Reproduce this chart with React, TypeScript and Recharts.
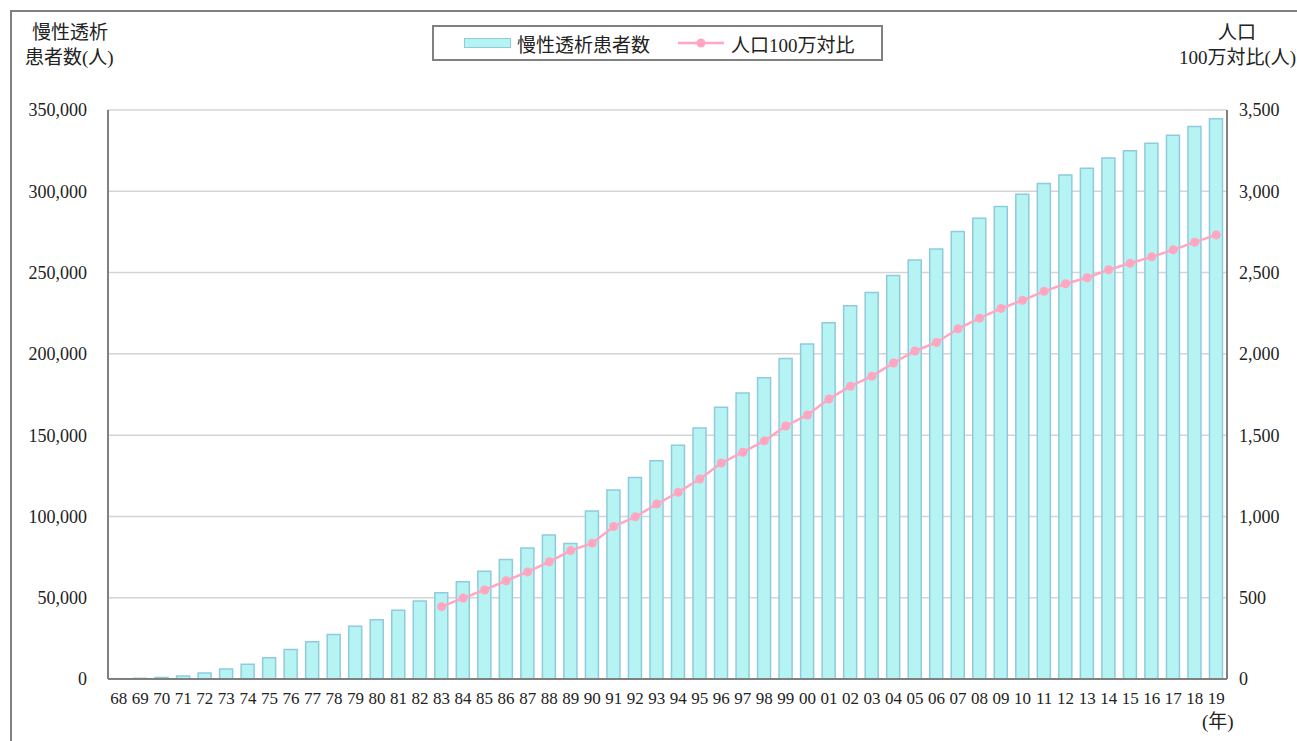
import { ComposedChart, Bar, Line, XAxis, YAxis, CartesianGrid } from 'recharts'

// 年 (1968〜2019, 下2桁)
const years = [
  '68', '69', '70', '71', '72', '73', '74', '75', '76', '77', '78', '79', '80', '81', '82',
  '83', '84', '85', '86', '87', '88', '89', '90', '91', '92', '93', '94', '95', '96', '97',
  '98', '99', '00', '01', '02', '03', '04', '05', '06', '07', '08', '09', '10', '11', '12',
  '13', '14', '15', '16', '17', '18', '19',
]

// 慢性透析患者数 (人)
const patients = [
  215, 429, 949, 1826, 3631, 6148, 9107, 13059, 18179, 22989, 27366, 32492, 36397, 42223, 47978,
  53017, 59811, 66310, 73537, 80553, 88534, 83342, 103296, 116303, 123926, 134298, 143709, 154413,
  167192, 175988, 185322, 197213, 206134, 219183, 229538, 237710, 248166, 257765, 264473, 275242,
  283421, 290661, 298252, 304856, 309946, 314180, 320448, 324986, 329609, 334505, 339841, 344640,
]

// 人口100万対比 (人) — 1983年から
const perMillion: (number | null)[] = [
  null, null, null, null, null, null, null, null, null, null, null, null, null, null, null,
  444.9, 497.5, 547.8, 604.4, 658.6, 720.5, 790, 835.6, 938.2, 997.4, 1076.4, 1148.6, 1229.8,
  1328.3, 1394.9, 1465.1, 1556.3, 1624.1, 1722.0, 1800.9, 1862.7, 1943.6, 2017.6, 2069.9, 2154.2,
  2219.6, 2279.6, 2329.1, 2384.8, 2431.2, 2468.3, 2517.3, 2557.0, 2596.6, 2639.7, 2687.2, 2731.7,
]

const leftTicks = [0, 50000, 100000, 150000, 200000, 250000, 300000, 350000]
const rightTicks = [0, 500, 1000, 1500, 2000, 2500, 3000, 3500]

const FONT = '"Liberation Serif", "Noto Sans CJK JP", serif'
const BAR_FILL = '#b6f3f3'
const BAR_STROKE = '#8fcbde'
const LINE = '#ffa6c0'
const FRAME = '#808080'

const data = years.map((y, i) => ({ year: y, patients: patients[i], perMillion: perMillion[i] }))

const fmt = (v: number) => v.toLocaleString('en-US')

export default function App() {
  const txt = { position: 'absolute' as const, fontFamily: FONT, fontSize: 19, color: '#222', lineHeight: '24px', whiteSpace: 'nowrap' as const }
  return (
    <div style={{ position: 'absolute', left: 0, top: 0, width: 1297, height: 741, overflow: 'hidden', background: '#fff', fontFamily: FONT }}>
      <div style={{ position: 'absolute', left: 10, top: 10, width: 1400, height: 900, border: `2px solid ${FRAME}` }} />

      <div style={{ ...txt, left: 32, top: 21 }}>慢性透析</div>
      <div style={{ ...txt, left: 25, top: 46 }}>患者数(人)</div>
      <div style={{ ...txt, left: 1218, top: 21 }}>人口</div>
      <div style={{ ...txt, left: 1179, top: 46 }}>100万対比(人)</div>
      <div style={{ ...txt, left: 1202, top: 710 }}>(年)</div>

      {/* 凡例 */}
      <div
        style={{
          position: 'absolute', left: 432, top: 25, width: 447, height: 32,
          border: `2px solid ${FRAME}`, display: 'flex', alignItems: 'center',
          fontFamily: FONT, fontSize: 19, color: '#222',
        }}
      >
        <span style={{ display: 'inline-block', marginLeft: 30, width: 45, height: 8, background: BAR_FILL, border: `1.5px solid ${BAR_STROKE}` }} />
        <span style={{ marginLeft: 6 }}>慢性透析患者数</span>
        <svg width={46} height={12} style={{ marginLeft: 28 }}>
          <line x1={0} y1={6} x2={46} y2={6} stroke={LINE} strokeWidth={2.5} />
          <circle cx={23} cy={6} r={4.5} fill={LINE} />
        </svg>
        <span style={{ marginLeft: 7 }}>人口100万対比</span>
      </div>

      <ComposedChart
        width={1297}
        height={741}
        data={data}
        margin={{ top: 110, right: 0, bottom: 22, left: 8 }}
        barCategoryGap="38%"
        style={{ position: 'absolute', left: 0, top: 0 }}
      >
        <CartesianGrid yAxisId="left" xAxisId="x" vertical={false} stroke="#d4d4d4" strokeWidth={1.5} />
        <XAxis
          xAxisId="x"
          dataKey="year"
          interval={0}
          height={40}
          tickSize={0}
          tickMargin={13}
          axisLine={{ stroke: FRAME, strokeWidth: 2 }}
          tick={{ fill: '#222', fontSize: 17, fontFamily: 'Liberation Serif' }}
        />
        <XAxis xAxisId="top" orientation="top" dataKey="year" height={0} tick={false} tickLine={false} axisLine={{ stroke: FRAME, strokeWidth: 2 }} />
        <YAxis
          yAxisId="left"
          width={100}
          domain={[0, 350000]}
          ticks={leftTicks}
          tickFormatter={fmt}
          tickSize={0}
          tickMargin={21}
          axisLine={{ stroke: FRAME, strokeWidth: 2 }}
          tick={{ fill: '#222', fontSize: 18, fontFamily: 'Liberation Serif' }}
        />
        <YAxis
          yAxisId="right"
          orientation="right"
          width={70}
          domain={[0, 3500]}
          ticks={rightTicks}
          tickFormatter={fmt}
          tickSize={0}
          tickMargin={12}
          axisLine={{ stroke: FRAME, strokeWidth: 2 }}
          tick={{ fill: '#222', fontSize: 18, fontFamily: 'Liberation Serif', textAnchor: 'start' }}
        />
        <Bar
          xAxisId="x"
          yAxisId="left"
          dataKey="patients"
          barSize={13}
          fill={BAR_FILL}
          stroke={BAR_STROKE}
          strokeWidth={1.5}
          isAnimationActive={false}
        />
        <Line
          xAxisId="x"
          yAxisId="right"
          dataKey="perMillion"
          stroke={LINE}
          strokeWidth={2.5}
          dot={{ r: 4.5, fill: LINE, stroke: LINE, strokeWidth: 0 }}
          activeDot={false}
          connectNulls={false}
          isAnimationActive={false}
        />
      </ComposedChart>
    </div>
  )
}
